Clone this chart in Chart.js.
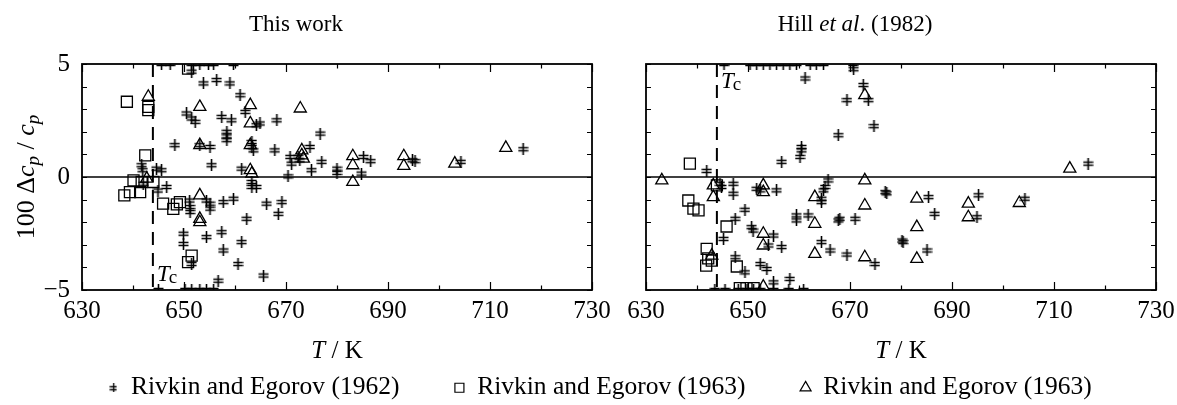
<!DOCTYPE html>
<html><head><meta charset="utf-8">
<script src="https://cdn.jsdelivr.net/npm/chart.js@4.4.1/dist/chart.umd.min.js"></script>
<style>
html,body{margin:0;padding:0;background:#fff;overflow:hidden;width:1177px;height:405px;position:relative}
canvas{position:absolute}
</style></head><body>
<canvas id="c1" width="620" height="370" style="left:0;top:0"></canvas>
<canvas id="c2" width="632" height="370" style="left:545px;top:0"></canvas>
<canvas id="c3" width="1140" height="220" style="left:30px;top:320px"></canvas>
<script>
// ---------- data ----------
const xTickLabels = [630, 650, 670, 690, 710, 730];
const yTickLabels = [-5, 0, 5];
const Tc = 643.9;
const seriesNames = ['Rivkin and Egorov (1962)', 'Rivkin and Egorov (1963)', 'Rivkin and Egorov (1963)'];

// Left panel: This work
const work1962T = [645.6,647.3,651.5,653.1,654.8,655.8,659.7,651.5,653.8,656.4,659.0,661.0,662.0,650.5,651.5,652.2,657.4,659.3,664.9,664.2,668.2,658.4,658.4,658.4,648.2,653.1,655.1,663.3,663.3,663.6,667.8,670.8,672.4,672.7,674.7,676.7,677.0,675.0,671.1,670.4,655.4,661.3,680.0,680.0,641.7,641.9,644.6,645.6,646.6,642.0,644.9,663.3,663.3,664.2,651.1,654.4,655.1,655.1,657.7,659.7,666.2,669.2,668.5,662.3,651.2,651.2,649.9,649.9,654.4,657.4,657.7,661.3,660.6,665.6,651.5,656.7,645.0,650.2,651.5,653.1,654.4,655.8,685.2,686.6,684.8,694.8,695.3,704.3,716.5];
const work1962D = [5,5,5,5,5,5,5,4.66,4.14,4.29,4.14,3.62,2.88,2.81,2.59,2.44,2.66,2.51,2.37,2.29,2.51,2.0,1.8,1.63,1.41,1.41,1.33,1.55,1.33,1.18,1.18,0.89,0.89,0.74,1.33,1.92,0.67,0.30,0.59,0.03,0.52,0.37,0.37,0.18,0.52,0.30,0.37,0.30,-0.44,-0.30,-0.60,-0.22,-0.44,-0.44,-1.04,-1.04,-1.18,-1.40,-1.11,-0.96,-1.18,-1.11,-1.63,-1.85,-1.33,-1.55,-2.51,-2.96,-2.66,-2.44,-3.25,-2.88,-3.85,-4.36,-3.85,-4.59,-5,-5,-5,-5,-5,-5,0.89,0.70,0.15,0.74,0.70,0.67,1.23];
const workSqT = [638.8,643.0,643.0,642.4,640.1,638.3,639.4,641.4,641.7,644.0,645.9,647.9,648.6,649.2,651.5,650.8,650.8];
const workSqD = [3.33,2.96,3.10,0.96,-0.15,-0.81,-0.67,-0.67,-0.22,-0.22,-1.18,-1.41,-1.21,-1.11,-3.48,-3.77,4.80];
const workTrT = [643.0,653.1,663.0,672.8,663.0,653.1,663.0,673.1,673.1,673.4,663.0,663.3,642.7,653.1,653.1,653.1,683.1,683.1,683.1,693.1,693.1,703.1,713.1];
const workTrD = [3.55,3.10,3.18,3.03,2.37,1.41,1.41,1.18,0.96,0.81,0.30,0.15,-0.07,-0.81,-1.85,-2.00,0.92,0.52,-0.22,0.92,0.49,0.59,1.29];

// Right panel: Hill et al. (1982)
const hill1962T = [645.3,650.4,651.7,653.0,654.3,655.6,656.9,658.2,659.5,662.2,663.4,664.8,670.6,670.7,661.2,672.6,669.4,673.6,674.7,667.7,660.5,660.5,660.2,656.6,641.9,644.5,644.8,647.1,647.1,651.7,652.4,655.6,665.7,665.1,664.8,649.4,647.5,645.2,650.7,651.0,655.0,654.0,659.5,659.5,661.8,664.4,664.4,668.0,667.7,671.0,656.6,664.4,666.1,669.4,674.9,647.5,652.4,653.7,649.4,655.0,658.2,643.5,645.5,648.1,649.8,651.1,652.4,655.0,658.0,660.9,676.9,677.2,685.4,686.6,680.2,680.4,685.1,695.2,694.9,704.3,716.7];
const hill1962D = [5,5,5,5,5,5,5,5,5,5,5,5,5,4.77,4.36,4.07,3.40,3.40,2.25,1.85,1.33,1.18,0.89,0.67,0.27,-0.30,-0.44,-0.30,-0.74,-0.52,-0.59,-0.59,-0.15,-0.44,-0.59,-1.45,-1.85,-2.74,-2.22,-2.37,-2.59,-3.03,-1.70,-1.92,-1.70,-0.96,-1.11,-1.85,-1.92,-1.85,-3.10,-2.88,-3.25,-3.43,-3.85,-3.55,-3.85,-4.07,-4.22,-4.66,-4.51,-5,-5,-5,-5,-5,-5,-5,-5,-5,-0.67,-0.72,-0.89,-1.63,-2.81,-2.88,-3.25,-0.81,-1.78,-0.96,0.59];
const hillSqT = [638.6,638.3,639.3,640.3,645.8,641.9,642.2,642.9,641.8,647.8,643.9,648.4,649.7,651.1];
const hillSqD = [0.59,-1.04,-1.40,-1.48,-2.19,-3.18,-3.60,-3.70,-3.92,-3.96,-0.37,-4.92,-4.92,-4.92];
const hillTrT = [633.1,643.2,643.2,653.0,653.0,663.1,663.1,653.0,653.0,663.1,672.9,672.9,672.9,672.9,642.9,653.0,683.1,683.1,683.1,693.2,693.2,703.2,713.1];
const hillTrD = [-0.15,-0.37,-0.89,-0.37,-0.67,-0.89,-2.07,-2.51,-3.03,-3.40,-0.15,-1.26,-3.55,3.62,-3.48,-4.85,-0.96,-2.22,-3.62,-1.18,-1.78,-1.15,0.37];

// ---------- helpers ----------
const SERIF = '"Liberation Serif", "Times New Roman", serif';
function makeDagger(w, h, lw) {
  const c = document.createElement('canvas'); c.width = w; c.height = h;
  const g = c.getContext('2d'); g.strokeStyle = '#000'; g.lineWidth = lw;
  const m = Math.floor(w / 2) + 0.5;
  g.beginPath();
  g.moveTo(m, 0); g.lineTo(m, h);
  g.moveTo(0.5, Math.round(h * 0.36) + 0.5); g.lineTo(w - 0.5, Math.round(h * 0.36) + 0.5);
  g.moveTo(0.5, Math.round(h * 0.62) + 0.5); g.lineTo(w - 0.5, Math.round(h * 0.62) + 0.5);
  g.stroke();
  return c;
}
const daggerBig = makeDagger(11, 12, 1.6);
const daggerSmall = makeDagger(8, 9, 1.3);
const pairs = (xs, ys) => xs.map((v, i) => ({x: v, y: ys[i]}));

function dsets(t1, d1, t2, d2, t3, d3) {
  const common = {backgroundColor: 'rgba(0,0,0,0)', borderColor: '#000', pointBorderWidth: 1.3, clip: 0, pointHoverRadius: 0};
  return [
    Object.assign({label: seriesNames[0], data: pairs(t1, d1), pointStyle: daggerBig, pointRadius: 6}, common),
    Object.assign({label: seriesNames[1], data: pairs(t2, d2), pointStyle: 'rect', pointRadius: 7.8}, common),
    Object.assign({label: seriesNames[2], data: pairs(t3, d3), pointStyle: 'triangle', pointRadius: 7}, common)
  ];
}

function rich(ctx, segs, x, y) {
  let w = 0;
  segs.forEach(s => { ctx.font = s.f; s.w = ctx.measureText(s.t).width; w += s.w; });
  let cx = x - w / 2;
  ctx.textAlign = 'left'; ctx.textBaseline = 'alphabetic'; ctx.fillStyle = '#000';
  segs.forEach(s => { ctx.font = s.f; ctx.fillText(s.t, cx, y + (s.dy || 0)); cx += s.w; });
}
const F = (sz, it) => (it ? 'italic ' : '') + sz + 'px ' + SERIF;

function decor(cfg) {
  return {
    id: 'decor',
    beforeDatasetsDraw(chart) {
      const {ctx, chartArea: a, scales: {x, y}} = chart;
      ctx.save(); ctx.strokeStyle = '#000';
      const y0 = y.getPixelForValue(0);
      ctx.lineWidth = 1.4;
      ctx.beginPath(); ctx.moveTo(a.left, y0); ctx.lineTo(a.right, y0); ctx.stroke();
      const xt = x.getPixelForValue(Tc);
      ctx.lineWidth = 2; ctx.setLineDash([13, 8]);
      ctx.beginPath(); ctx.moveTo(xt, a.top); ctx.lineTo(xt, a.bottom); ctx.stroke();
      ctx.restore();
    },
    afterDatasetsDraw(chart) {
      const {ctx, chartArea: a, scales: {x, y}} = chart;
      ctx.save(); ctx.strokeStyle = '#000'; ctx.lineWidth = 1.2;
      ctx.beginPath();
      for (let v = 630; v <= 730; v += 10) {
        const px = Math.round(x.getPixelForValue(v)) + 0.5;
        const len = (v - 630) % 20 === 0 ? 8 : 4.5;
        ctx.moveTo(px, a.bottom); ctx.lineTo(px, a.bottom - len);
        ctx.moveTo(px, a.top); ctx.lineTo(px, a.top + len);
      }
      for (let v = -5; v <= 5; v += 1) {
        const py = Math.round(y.getPixelForValue(v)) + 0.5;
        ctx.moveTo(a.left, py); ctx.lineTo(a.left + 5, py);
        ctx.moveTo(a.right, py); ctx.lineTo(a.right - 5, py);
      }
      ctx.stroke();
      ctx.lineWidth = 1.8;
      ctx.strokeRect(a.left, a.top, a.right - a.left, a.bottom - a.top);
      ctx.restore();
    },
    afterDraw(chart) {
      const {ctx, chartArea: a, scales: {x, y}} = chart;
      ctx.save();
      rich(ctx, cfg.title, cfg.titleX, 31);
      rich(ctx, [{t: 'T', f: F(25, true)}, {t: ' / K', f: F(25)}], (a.left + a.right) / 2, 358);
      const xt = x.getPixelForValue(Tc);
      ctx.textAlign = 'left'; ctx.textBaseline = 'alphabetic'; ctx.fillStyle = '#000';
      ctx.font = F(23, true); ctx.fillText('T', xt + 4, cfg.tcY);
      const tw = ctx.measureText('T').width;
      ctx.font = F(19); ctx.fillText('c', xt + 3 + tw, cfg.tcY + 2);
      if (cfg.yTitle) {
        ctx.translate(cfg.yTitleX, (a.top + a.bottom) / 2);
        ctx.rotate(-Math.PI / 2);
        rich(ctx, [
          {t: '100 \u0394', f: F(26)}, {t: 'c', f: F(26, true)}, {t: 'p', f: F(19, true), dy: 5},
          {t: ' / ', f: F(26)}, {t: 'c', f: F(26, true)}, {t: 'p', f: F(19, true), dy: 5}
        ], 0, 0);
      }
      ctx.restore();
    }
  };
}

function panel(id, sets, cfg) {
  return new Chart(document.getElementById(id), {
    type: 'scatter',
    data: {datasets: sets},
    options: {
      responsive: false, animation: false, devicePixelRatio: 1,
      layout: {padding: {left: cfg.padL, right: cfg.padR, top: 64, bottom: 0}},
      plugins: {legend: {display: false}, tooltip: {enabled: false}, title: {display: false}},
      events: [],
      scales: {
        x: {
          type: 'linear', min: 630, max: 730,
          afterBuildTicks: s => { s.ticks = xTickLabels.map(v => ({value: v})); },
          ticks: {font: {family: SERIF, size: 25, lineHeight: 1}, color: '#000', padding: 9, maxRotation: 0, autoSkip: false},
          grid: {display: false, drawTicks: false}, border: {display: false},
          afterFit: s => { s.height = 80; s.paddingLeft = 0; s.paddingRight = 0; }
        },
        y: {
          type: 'linear', min: -5, max: 5,
          afterBuildTicks: s => { s.ticks = yTickLabels.map(v => ({value: v})); },
          ticks: {display: cfg.yLabels, font: {family: SERIF, size: 25, lineHeight: 1}, color: '#000', padding: 12,
            callback: v => v < 0 ? '\u2212' + Math.abs(v) : String(v)},
          grid: {display: false, drawTicks: false}, border: {display: false},
          afterFit: s => { s.width = cfg.yW; s.paddingTop = 0; s.paddingBottom = 0; }
        }
      }
    },
    plugins: [decor(cfg)]
  });
}

panel('c1', dsets(work1962T, work1962D, workSqT, workSqD, workTrT, workTrD), {
  padL: 0, padR: 28, yW: 82, yLabels: true, yTitle: true, yTitleX: 34, tcY: 281,
  title: [{t: 'This work', f: F(23)}], titleX: 296
});
panel('c2', dsets(hill1962T, hill1962D, hillSqT, hillSqD, hillTrT, hillTrD), {
  padL: 10, padR: 21, yW: 91, yLabels: false, yTitle: false, tcY: 88,
  title: [{t: 'Hill ', f: F(23)}, {t: 'et al', f: F(23, true)}, {t: '. (1982)', f: F(23)}], titleX: 855 - 545
});

new Chart(document.getElementById('c3'), {
  type: 'scatter',
  data: {datasets: [
    {label: seriesNames[0], data: [], pointStyle: daggerSmall, borderColor: '#000', backgroundColor: 'rgba(0,0,0,0)', pointBorderWidth: 1.2},
    {label: seriesNames[1], data: [], pointStyle: 'rect', borderColor: '#000', backgroundColor: 'rgba(0,0,0,0)', pointBorderWidth: 1.2},
    {label: seriesNames[2], data: [], pointStyle: 'triangle', borderColor: '#000', backgroundColor: 'rgba(0,0,0,0)', pointBorderWidth: 1.2}
  ]},
  options: {
    responsive: false, animation: false, devicePixelRatio: 1, events: [],
    layout: {padding: 0},
    scales: {x: {display: false}, y: {display: false}},
    plugins: {
      tooltip: {enabled: false},
      legend: {display: true, position: 'top', align: 'center',
        labels: {usePointStyle: true, boxWidth: 10, boxHeight: 9, padding: 55, color: '#000',
          font: {family: SERIF, size: 25.5, lineHeight: 1}}}
    }
  }
});
</script>
</body></html>
